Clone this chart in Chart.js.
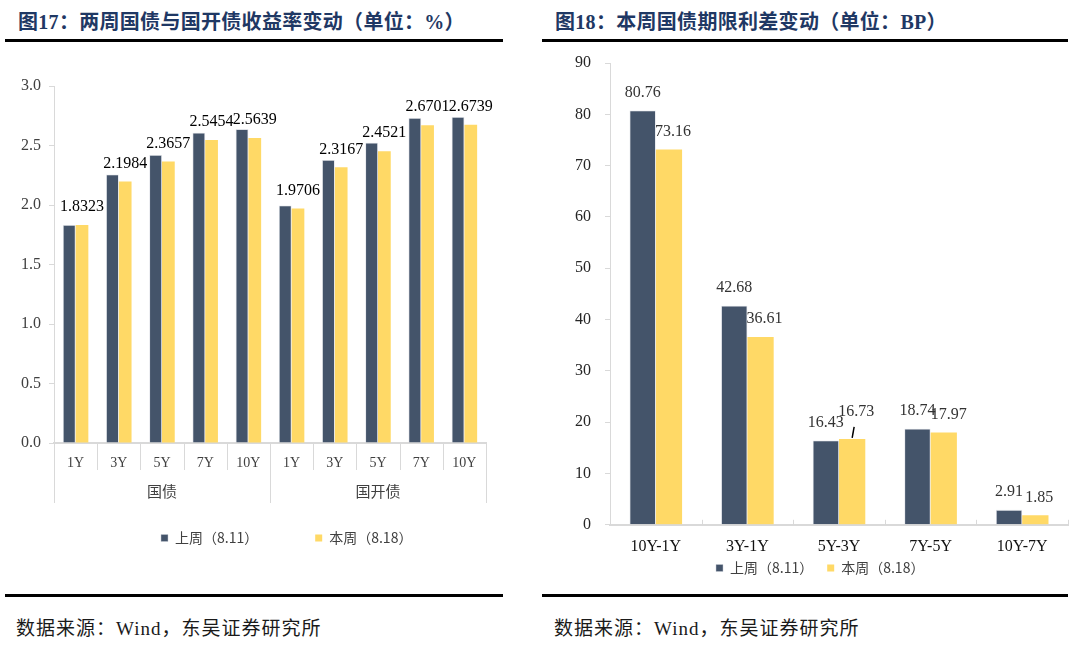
<!DOCTYPE html>
<html>
<head>
<meta charset="utf-8">
<script src="https://cdn.jsdelivr.net/npm/chart.js@4.4.1/dist/chart.umd.min.js"></script>
<style>
  html, body { margin: 0; padding: 0; background: #ffffff; }
  body { width: 1078px; height: 645px; position: relative; overflow: hidden; }
  .title { position: absolute; top: 8px; height: 28px; line-height: 28px; white-space: nowrap;
           font-family: "Liberation Serif", "Noto Sans CJK SC", serif; font-weight: 700; font-size: 20px; color: #1F3864; }
  .rule { position: absolute; height: 3px; background: #000; }
  .src { position: absolute; top: 616px; height: 26px; line-height: 26px; white-space: nowrap;
         font-family: "Liberation Serif", "Noto Sans CJK SC", serif; font-size: 19px; letter-spacing: 1px; color: #1a1a1a; }
  canvas { position: absolute; }
  #c1 { left: 0px; top: 50px; }
  #c2 { left: 540px; top: 50px; }
</style>
</head>
<body>
<div class="title" style="left:18px; letter-spacing:0.3px;">图17：两周国债与国开债收益率变动（单位：%）</div>
<div class="title" style="left:555px; letter-spacing:0.3px;">图18：本周国债期限利差变动（单位：BP）</div>
<div class="rule" style="left:5px; width:498px; top:39px;"></div>
<div class="rule" style="left:542px; width:526px; top:39px;"></div>
<canvas id="c1" width="540" height="503"></canvas>
<canvas id="c2" width="538" height="548"></canvas>
<div class="rule" style="left:5px; width:498px; top:594px;"></div>
<div class="rule" style="left:542px; width:526px; top:594px;"></div>
<div class="src" style="left:16px;">数据来源：Wind，东吴证券研究所</div>
<div class="src" style="left:554px;">数据来源：Wind，东吴证券研究所</div>

<script>
// ---------------- data ----------------
const seriesNames = ['上周（8.11）', '本周（8.18）'];

const yieldCategories = ['1Y', '3Y', '5Y', '7Y', '10Y', '1Y', '3Y', '5Y', '7Y', '10Y'];
const yieldGroups = ['国债', '国开债'];
const yieldLastWeek = [1.8323, 2.257, 2.420, 2.607, 2.638, 1.996, 2.378, 2.523, 2.731, 2.739];
const yieldThisWeek = [1.8323, 2.1984, 2.3657, 2.5454, 2.5639, 1.9706, 2.3167, 2.4521, 2.6701, 2.6739];

const spreadCategories = ['10Y-1Y', '3Y-1Y', '5Y-3Y', '7Y-5Y', '10Y-7Y'];
const spreadLastWeek = [80.76, 42.68, 16.43, 18.74, 2.91];
const spreadThisWeek = [73.16, 36.61, 16.73, 17.97, 1.85];

// ---------------- styles ----------------
const DARK = '#44546A';
const GOLD = '#FFD966';
const AXIS = '#D9D9D9';
const SERIF = '"Liberation Serif", "Noto Sans CJK SC", serif';
const CJK = '"Noto Sans CJK SC", "Liberation Sans", sans-serif';

// ---------------- plugins ----------------
const valueLabels = {
  id: 'valueLabels',
  afterDatasetsDraw(chart, args, opts) {
    const ctx = chart.ctx;
    ctx.save();
    ctx.font = opts.font;
    ctx.fillStyle = opts.color;
    ctx.textAlign = 'center';
    ctx.textBaseline = 'middle';
    opts.datasets.forEach(di => {
      const meta = chart.getDatasetMeta(di);
      const ds = chart.data.datasets[di];
      const sx = (opts.shiftX && opts.shiftX[di]) || 0;
      meta.data.forEach((bar, i) => {
        const v = ds.data[i];
        let x = bar.x + sx, y = bar.y - opts.offset;
        const adj = (opts.adjust || []).find(a => a.dataset === di && a.index === i);
        if (adj) {
          x += adj.dx; y += adj.dy;
          if (adj.leader) {
            ctx.save();
            ctx.strokeStyle = '#000';
            ctx.lineWidth = 1.5;
            ctx.beginPath();
            ctx.moveTo(x - 2, y + 15);
            ctx.lineTo(bar.x, bar.y - 1);
            ctx.stroke();
            ctx.restore();
          }
        }
        ctx.fillText(v.toFixed(opts.decimals), x, y);
      });
    });
    ctx.restore();
  }
};

// divider lines between categories, and (optionally) group captions below them
const categoryDividers = {
  id: 'categoryDividers',
  afterDraw(chart, args, opts) {
    const xs = chart.scales.x;
    const ctx = chart.ctx;
    const n = chart.data.labels.length;
    const step = (xs.right - xs.left) / n;
    const base = chart.chartArea.bottom;
    ctx.save();
    ctx.strokeStyle = opts.color;
    ctx.lineWidth = 1;
    ctx.beginPath();
    for (let i = opts.from; i <= n; i++) {
      const px = Math.round(xs.left + i * step) + 0.5;
      const isGroup = opts.groupSize && i % opts.groupSize === 0;
      const len = isGroup ? opts.groupLength : opts.length;
      ctx.moveTo(px, base);
      ctx.lineTo(px, base + len * opts.dir);
    }
    ctx.stroke();
    if (opts.groups) {
      ctx.font = opts.groupFont;
      ctx.fillStyle = opts.groupColor;
      ctx.textAlign = 'center';
      ctx.textBaseline = 'middle';
      opts.groups.forEach((g, gi) => {
        const cx = xs.left + (gi + 0.5) * opts.groupSize * step;
        ctx.fillText(g, cx, base + opts.groupOffset);
      });
    }
    ctx.restore();
  }
};

// places the legend row: first box left edge at boxX, row centre at rowY (canvas px)
const legendPlace = {
  id: 'legendPlace',
  afterLayout(chart, args, opts) {
    const lg = chart.legend;
    if (!lg || !lg.lineWidths) return;
    const pad = lg.options.labels.padding;
    const fs = lg.options.labels.font.size;
    const dy = opts.rowY - (lg.top + pad + fs / 2);
    const curX = (lg.left + pad + lg.right - lg.lineWidths[0]) / 2;
    const dx = opts.boxX - curX;
    lg.left += dx; lg.right += dx; lg.top += dy; lg.bottom += dy;
  }
};

// ---------------- chart 1 ----------------
new Chart(document.getElementById('c1'), {
  type: 'bar',
  data: {
    labels: yieldCategories,
    datasets: [
      { label: seriesNames[0], data: yieldLastWeek, backgroundColor: DARK,
        borderColor: 'rgba(200,205,215,0.6)', borderWidth: 0.8,
        barPercentage: 1.0, categoryPercentage: 0.59 },
      { label: seriesNames[1], data: yieldThisWeek, backgroundColor: GOLD,
        barPercentage: 1.0, categoryPercentage: 0.59 }
    ]
  },
  plugins: [valueLabels, categoryDividers, legendPlace],
  options: {
    responsive: false,
    animation: false,
    devicePixelRatio: 1,
    layout: { padding: { left: 13, right: 54, top: 36, bottom: 0 } },
    scales: {
      x: {
        grid: { display: false },
        border: { display: true, color: AXIS, width: 2 },
        ticks: { font: { family: SERIF, size: 14 }, color: '#404040', padding: 4, maxRotation: 0, autoSkip: false },
        afterFit: s => { s.height = 29; }
      },
      y: {
        min: 0, max: 3,
        ticks: { stepSize: 0.5, callback: v => v.toFixed(1), font: { family: SERIF, size: 16 }, color: '#404040', padding: 8 },
        grid: { display: true, drawOnChartArea: false, drawTicks: true, tickLength: 5, color: AXIS },
        border: { display: true, color: AXIS, width: 1 },
        afterFit: s => { s.paddingTop = 0; s.paddingBottom = 0; }
      }
    },
    plugins: {
      tooltip: { enabled: false },
      legend: {
        position: 'bottom',
        labels: { boxWidth: 7, boxHeight: 7, padding: 57, color: '#404040', font: { family: CJK, size: 14 } }
      },
      legendPlace: { boxX: 161, rowY: 488 },
      valueLabels: { datasets: [1], decimals: 4, offset: 18, font: '16px "Liberation Serif"', color: '#000', adjust: [] },
      categoryDividers: { color: AXIS, from: 0, dir: 1, length: 27, groupSize: 5, groupLength: 60,
        groups: yieldGroups, groupOffset: 48, groupFont: '15px "Noto Sans CJK SC"', groupColor: '#404040' }
    }
  }
});

// ---------------- chart 2 ----------------
new Chart(document.getElementById('c2'), {
  type: 'bar',
  data: {
    labels: spreadCategories,
    datasets: [
      { label: seriesNames[0], data: spreadLastWeek, backgroundColor: DARK,
        borderColor: 'rgba(200,205,215,0.6)', borderWidth: 0.8,
        barPercentage: 1.0, categoryPercentage: 0.574 },
      { label: seriesNames[1], data: spreadThisWeek, backgroundColor: GOLD,
        barPercentage: 1.0, categoryPercentage: 0.574 }
    ]
  },
  plugins: [valueLabels, categoryDividers, legendPlace],
  options: {
    responsive: false,
    animation: false,
    devicePixelRatio: 1,
    layout: { padding: { left: 21, right: 10, top: 13, bottom: 0 } },
    scales: {
      x: {
        grid: { display: false },
        border: { display: true, color: AXIS, width: 2 },
        ticks: { font: { family: SERIF, size: 16 }, color: '#111', padding: 4, maxRotation: 0, autoSkip: false }
      },
      y: {
        min: 0, max: 90,
        ticks: { stepSize: 10, font: { family: SERIF, size: 16 }, color: '#262626', padding: 14 },
        grid: { display: true, drawOnChartArea: false, drawTicks: true, tickLength: 5, color: AXIS },
        border: { display: true, color: AXIS, width: 1 },
        afterFit: s => { s.paddingTop = 0; s.paddingBottom = 0; }
      }
    },
    plugins: {
      tooltip: { enabled: false },
      legend: {
        position: 'bottom',
        labels: { boxWidth: 7, boxHeight: 7, padding: 14, color: '#404040', font: { family: CJK, size: 14 } }
      },
      legendPlace: { boxX: 176, rowY: 518 },
      valueLabels: {
        datasets: [0, 1], decimals: 2, offset: 18, font: '16px "Liberation Serif"', color: '#333',
        shiftX: { 1: 4 },
        adjust: [ { dataset: 1, index: 2, dx: 0, dy: -9, leader: true }, { dataset: 1, index: 3, dx: 1, dy: 0 } ]
      },
      categoryDividers: { color: AXIS, from: 1, dir: -1, length: 5, groupSize: 0, groupLength: 5 }
    }
  }
});
</script>
</body>
</html>
